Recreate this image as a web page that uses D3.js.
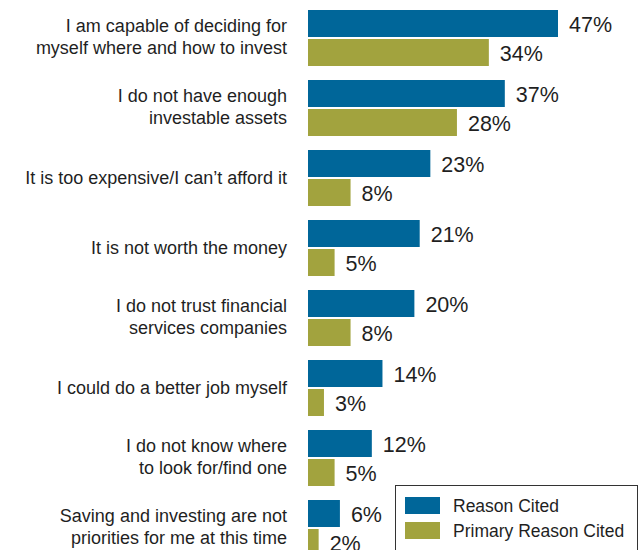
<!DOCTYPE html>
<html>
<head>
<meta charset="utf-8">
<script src="https://cdn.jsdelivr.net/npm/d3@7"></script>
<style>
  html, body { margin: 0; padding: 0; background: #fff; }
  svg { display: block; }
  text { font-family: "Liberation Sans", Arial, sans-serif; fill: #1f1f1f; }
</style>
</head>
<body>
<svg id="chart" width="639" height="550"></svg>
<script>
// ---- Data ----
const categories = [
  ["I am capable of deciding for", "myself where and how to invest"],
  ["I do not have enough", "investable assets"],
  ["It is too expensive/I can\u2019t afford it"],
  ["It is not worth the money"],
  ["I do not trust financial", "services companies"],
  ["I could do a better job myself"],
  ["I do not know where", "to look for/find one"],
  ["Saving and investing are not", "priorities for me at this time"]
];
const seriesNames = ["Reason Cited", "Primary Reason Cited"];
const reasonCited = [47, 37, 23, 21, 20, 14, 12, 6];
const primaryReasonCited = [34, 28, 8, 5, 8, 3, 5, 2];
const seriesColors = ["#006699", "#A2A33E"];

// ---- Build ----
const svg = d3.select("#chart");
const ids = categories.map((c, i) => i);
const seriesValues = [reasonCited, primaryReasonCited];

const x = d3.scaleLinear().domain([0, 47]).range([308, 558]);
const y = d3.scaleBand().domain(ids).range([3, 563]).paddingInner(0.2).paddingOuter(0.1);
const ySub = d3.scaleBand().domain([0, 1]).range([0, y.bandwidth()]).paddingInner(2 / 29);

const groups = svg.selectAll("g.grp").data(ids).join("g")
  .attr("class", "grp")
  .attr("transform", d => `translate(0,${y(d)})`);

groups.each(function(i) {
  const g = d3.select(this);
  seriesValues.forEach((vals, s) => {
    g.append("rect")
      .attr("x", x(0))
      .attr("y", ySub(s))
      .attr("width", x(vals[i]) - x(0))
      .attr("height", ySub.bandwidth())
      .attr("fill", seriesColors[s]);
    g.append("text")
      .attr("x", x(vals[i]) + 11)
      .attr("y", ySub(s) + ySub.bandwidth() / 2 + 8.3)
      .attr("font-size", "21.5px")
      .text(vals[i] + "%");
  });
  const lines = categories[i];
  const c = y.bandwidth() / 2;
  const lab = g.append("text")
    .attr("text-anchor", "end")
    .attr("font-size", "18px");
  lines.forEach((ln, k) => {
    const base = lines.length === 1 ? c + 5.8 : c - 6.5 + k * 22.7;
    lab.append("tspan").attr("x", 287).attr("y", base).text(ln);
  });
});

// legend
const legend = svg.append("g");
legend.append("rect")
  .attr("x", 395.5).attr("y", 485.5)
  .attr("width", 242).attr("height", 90)
  .attr("fill", "#fff").attr("stroke", "#333").attr("stroke-width", 1);
seriesNames.forEach((name, s) => {
  const yy = 497 + s * 25;
  legend.append("rect")
    .attr("x", 405).attr("y", yy)
    .attr("width", 35).attr("height", 17)
    .attr("fill", seriesColors[s]);
  legend.append("text")
    .attr("x", 453).attr("y", yy + 15.3)
    .attr("font-size", "17.5px")
    .text(name);
});
</script>
</body>
</html>
